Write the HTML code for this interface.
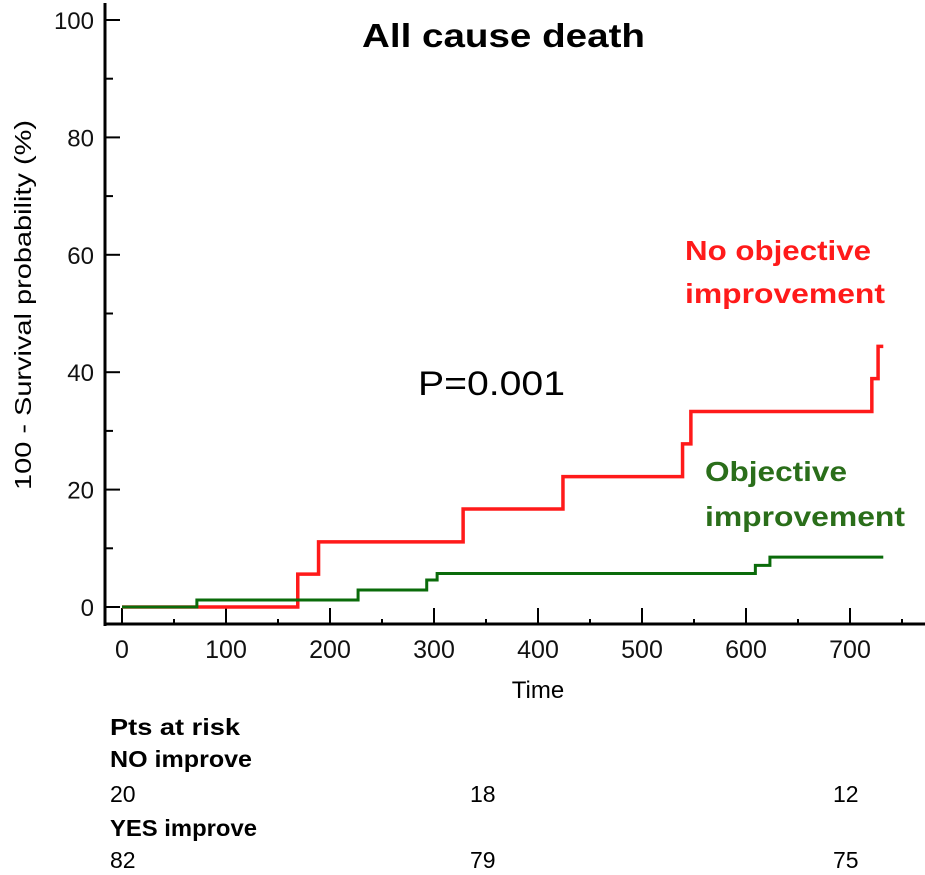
<!DOCTYPE html>
<html><head><meta charset="utf-8"><style>
body{margin:0;background:#fff;width:925px;height:870px;overflow:hidden}
svg text{font-family:"Liberation Sans",sans-serif}
</style></head><body>
<svg id="chart" width="925" height="870" viewBox="0 0 925 870" xmlns="http://www.w3.org/2000/svg">
<text x="362" y="47" font-size="33" font-weight="bold" textLength="283" lengthAdjust="spacingAndGlyphs" fill="#000">All cause death</text>
<text transform="translate(31,305) rotate(-90)" font-size="23" text-anchor="middle" textLength="370" lengthAdjust="spacingAndGlyphs" fill="#000">100 - Survival probability (%)</text>
<text x="538" y="698" font-size="24" text-anchor="middle" fill="#000">Time</text>
<text x="418" y="395" font-size="34" textLength="147" lengthAdjust="spacingAndGlyphs" fill="#000">P=0.001</text>
<text x="685" y="260" font-size="28" font-weight="bold" textLength="186" lengthAdjust="spacingAndGlyphs" fill="#ff1a1a">No objective</text>
<text x="685" y="303" font-size="28" font-weight="bold" textLength="200" lengthAdjust="spacingAndGlyphs" fill="#ff1a1a">improvement</text>
<text x="705" y="481" font-size="28" font-weight="bold" textLength="142" lengthAdjust="spacingAndGlyphs" fill="#2a6e1a">Objective</text>
<text x="705" y="526" font-size="28" font-weight="bold" textLength="200" lengthAdjust="spacingAndGlyphs" fill="#2a6e1a">improvement</text>
<g id="axes"></g>
<g id="series"></g>
<g font-size="23" fill="#000">
<text x="110" y="735" font-weight="bold" textLength="130" lengthAdjust="spacingAndGlyphs">Pts at risk</text>
<text x="110" y="767" font-weight="bold" textLength="142" lengthAdjust="spacingAndGlyphs">NO improve</text>
<text x="110" y="802">20</text>
<text x="470" y="802">18</text>
<text x="833" y="802">12</text>
<text x="110" y="836" font-weight="bold" textLength="147" lengthAdjust="spacingAndGlyphs">YES improve</text>
<text x="110" y="868">82</text>
<text x="470" y="868">79</text>
<text x="833" y="868">75</text>
</g>
</svg>
<script>
const xTicks=[0,100,200,300,400,500,600,700];
const yTicks=[0,20,40,60,80,100];
const redTimes=[0,169,189,328,424,539,547,721,727,732];
const redValues=[0,5.6,11.1,16.7,22.2,27.8,33.3,38.9,44.4,44.4];
const greenTimes=[0,72,227,293,303,609,623,732];
const greenValues=[0,1.2,2.9,4.6,5.7,7.1,8.5,8.5];
const NS="http://www.w3.org/2000/svg";
const X=t=>122+1.04*t;
const Y=v=>607-5.87*v;
function mk(tag,attrs,parent){const e=document.createElementNS(NS,tag);for(const k in attrs)e.setAttribute(k,attrs[k]);parent.appendChild(e);return e;}
const ax=document.getElementById('axes');
let e=mk('line',{x1:105,y1:3,x2:105,y2:626,stroke:'#000','stroke-width':3},ax);


e=mk('line',{x1:104,y1:624,x2:925,y2:624,stroke:'#000','stroke-width':3},ax);


for(let v=0;v<=100;v+=10){const major=v%20===0;
 e=mk('line',{x1:105,y1:Y(v),x2:105+(major?15:8),y2:Y(v),stroke:'#000','stroke-width':2},ax);
 
 }
yTicks.forEach(v=>{e=mk('text',{x:94,y:Y(v)+9,'font-size':24,'text-anchor':'end',fill:'#111'},ax);e.textContent=v;
 
 });
for(let t=0;t<=750;t+=50){const major=t%100===0;
 e=mk('line',{x1:X(t),y1:624,x2:X(t),y2:624-(major?16:5),stroke:'#000','stroke-width':2},ax);
 
 }
xTicks.forEach(t=>{e=mk('text',{x:X(t),y:658,'font-size':25,'text-anchor':'middle',fill:'#111'},ax);e.textContent=t;
 
 });
function step(ts,vs){let d='M'+X(ts[0])+','+Y(vs[0]);for(let i=1;i<ts.length;i++){d+=' H'+X(ts[i])+' V'+Y(vs[i]);}return d;}
const sg=document.getElementById('series');
e=mk('path',{d:step(redTimes,redValues),fill:'none',stroke:'#ff1a1a','stroke-width':3.5},sg);


e=mk('path',{d:step(greenTimes,greenValues),fill:'none',stroke:'#0a6b0a','stroke-width':3},sg);


</script>
</body></html>
